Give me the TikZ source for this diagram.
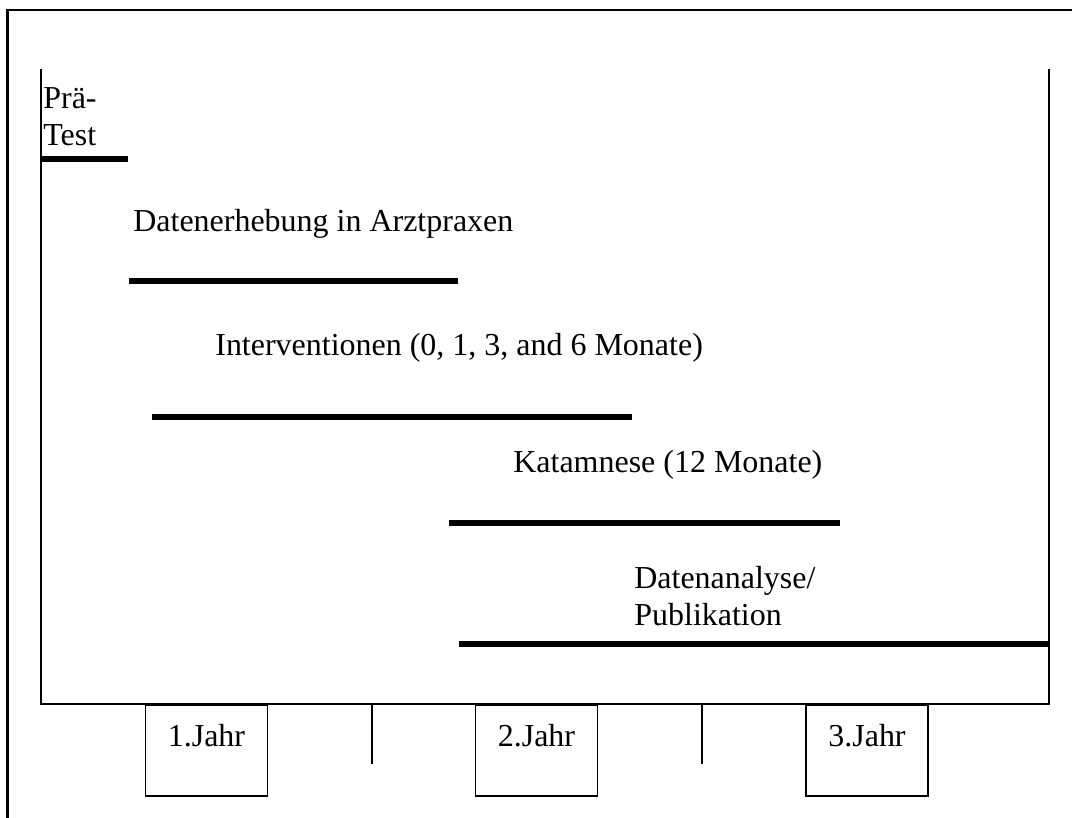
\documentclass[tikz,border=0pt]{standalone}
\usepackage{fontspec}
\setmainfont{Liberation Serif}
\usepackage{tikz}
\usetikzlibrary{positioning}
\tikzset{
	phase/.style={line width=3.2pt},
	label/.style={anchor=base west, inner sep=0pt, font=\fontsize{18.2}{21}\selectfont, align=left},
	yearbox/.style={draw, line width=1.1pt, anchor=north, inner sep=0pt, minimum width=2.44cm, text height=0.84cm, text depth=0.98cm, font=\fontsize{18.2}{21}\selectfont}
}

\begin{document}
\begin{tikzpicture}[x=0.02cm, y=-0.02cm]
		\useasboundingbox (0,0) rectangle (1072,818);
		%\draw[help lines] (0,0) grid[step=100] (1072,818);
		
		% outer frame
		\draw[line width=1.7pt] (7.5,818) -- (7.5,10) -- (1072,10);
		% time axis
		\draw[line width=1.1pt] (41,69) -- (41,704) -- (1049,704) -- (1049,69);
		\draw[line width=1.1pt] (372,704) -- (372,764);
		\draw[line width=1.1pt] (702,704) -- (702,764);
		
		% two-line labels sit on the baseline of their last line
		\node[label] (pre) at (43,145) {Prä-\\Test};
		\draw[phase] (41,159) -- (128,159);
		
		\node[label] (survey) at (133,231) {Datenerhebung in Arztpraxen};
		\draw[phase] (129,281) -- (458,281);
		
		\node[label] (interv) at (215,355) {Interventionen (0, 1, 3, and 6 Monate)};
		\draw[phase] (152,417) -- (632,417);
		
		\node[label] (follow) at (513,472) {Katamnese (12 Monate)};
		\draw[phase] (449,523) -- (840,523);
		
		\node[label] (analysis) at (634,625) {Datenanalyse/\\Publikation};
		\draw[phase] (459,644) -- (1049,644);
		
		\node[yearbox] (y1) at (206.5,704) {1.Jahr};
		\node[yearbox] (y2) at (536.5,704) {2.Jahr};
		\node[yearbox] (y3) at (867,704) {3.Jahr};
	\end{tikzpicture}
\end{document}
